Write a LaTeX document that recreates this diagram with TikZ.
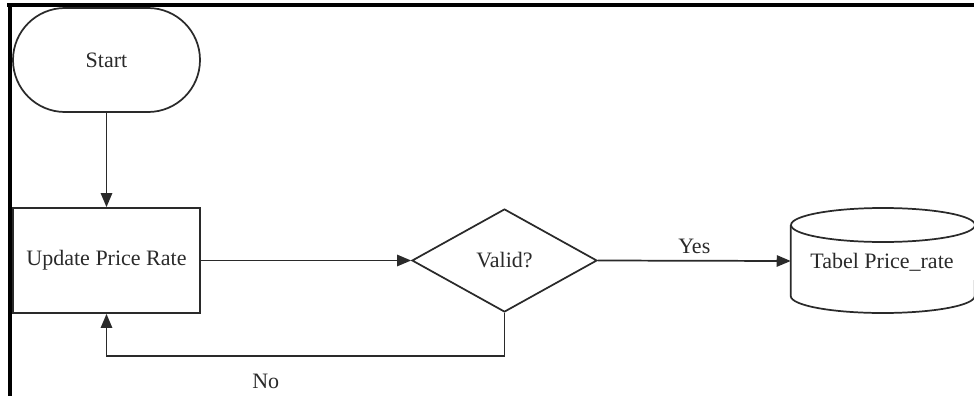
\documentclass[tikz,border=0pt]{standalone}
\usepackage{fontspec}
\setmainfont{Liberation Serif}
\usetikzlibrary{shapes.geometric,arrows.meta}
\definecolor{ink}{HTML}{2A2A2A}
\begin{document}
\begin{tikzpicture}[x=0.75pt,y=-0.75pt,
  every node/.style={font=\fontsize{16.5}{19}\selectfont, text=ink},
  outline/.style={draw=ink, line width=1.3pt},
  flow/.style={draw=ink, line width=1.3pt, -{Triangle[length=10.5pt,width=8.5pt]}},
  terminal/.style={outline, rectangle, rounded corners=39pt,
    minimum width=140.25pt, minimum height=78pt, inner sep=0pt},
  process/.style={outline, rectangle,
    minimum width=140.25pt, minimum height=78.75pt, inner sep=0pt},
  decision/.style={outline, diamond, minimum width=138.75pt,
    minimum height=77.25pt, inner sep=0pt},
  storage/.style={rectangle, minimum width=138pt, minimum height=78pt, inner sep=0pt},
  lbl/.style={inner sep=1pt}
]
\useasboundingbox (0,0) rectangle (974,396);
\begin{scope}
\clip (0,0) rectangle (974,396);

% page frame
\draw[black, line width=2.4pt] (7,5) -- (974,5);
\draw[black, line width=2.4pt] (10,4) -- (10,396);

% nodes
\node[terminal] (start) at (106.5,60) {Start};
\node[process] (upd) at (106.5,260.5) {Update Price Rate};
\node[decision] (valid) at (504.5,260.5) {Valid?};
\node[storage] (db) at (883,261) {};

% database cylinder drawn around the db node
\draw[outline] (db.west |- 0,225) -- (db.west |- 0,296)
  arc[start angle=180, end angle=0, x radius=92, y radius=17]
  -- (db.east |- 0,225);
\draw[outline] (883,225) ellipse[x radius=92, y radius=17];
\node at (882,262) {Tabel Price\_rate};

% connectors
\draw[flow] (start.south) -- (upd.north);
\draw[flow] (upd.east) -- (valid.west);
\draw[flow] (valid.east) -- node[lbl, above=4pt] {Yes} (db.west);
\coordinate (loop) at (504.5,356);
\draw[flow] (valid.south) -- (loop) -- (upd.south |- loop)
  node[lbl, pos=0.6, below=12pt] {No} -- (upd.south);
\end{scope}
\end{tikzpicture}
\end{document}
